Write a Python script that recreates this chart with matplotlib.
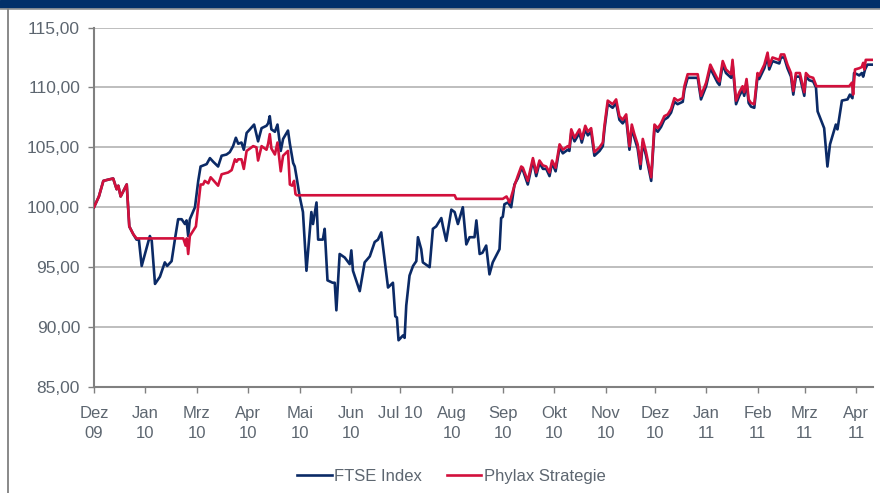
import matplotlib
matplotlib.use("Agg")
import matplotlib.pyplot as plt
from matplotlib.lines import Line2D

plt.rcParams['font.family'] = ['Liberation Sans', 'DejaVu Sans']

# trading-day index (0 = start of Dec 2009) and index level
ftse_day = [0, 2.1, 4.0, 6.0, 8.2, 9.7, 10.4, 11.4, 14.0, 15.1, 16.8, 18.2, 19.2, 20.4,
            23.9, 24.7, 26.1, 28.2, 30.3, 31.3, 33.2, 34.6, 36.0, 37.5, 38.9, 39.6, 40.3,
            41.0, 43.2, 44.6, 45.6, 48.2, 49.6, 51.0, 53.1, 54.6, 56.7, 58.1, 59.5, 60.7,
            61.7, 63.1, 64.1, 65.3, 66.7, 68.5, 70.2, 71.7, 73.8, 74.5, 75.2, 75.9, 77.4,
            78.5, 79.9, 80.9, 83.0, 83.8, 85.2, 85.9, 86.6, 88.0, 89.4, 90.9, 93.0, 93.7,
            95.2, 95.9, 97.9, 98.7, 99.9, 102.1, 103.0, 103.7, 105.1, 107.3, 109.4, 110.1,
            110.8, 113.7, 115.8, 118.0, 120.1, 121.5, 122.9, 125.8, 127.9, 128.9, 129.6,
            130.3, 132.2, 132.9, 133.6, 135.0, 136.5, 137.9, 138.6, 140.0, 140.7, 143.6,
            145.0, 146.4, 148.6, 149.3, 150.7, 152.9, 154.3, 155.7, 157.8, 159.3, 160.7,
            162.8, 163.6, 165.0, 166.2, 167.8, 169.2, 170.6, 173.5, 174.2, 174.9, 175.6,
            177.1, 178.5, 179.9, 181.3, 182.8, 183.5, 185.6, 187.8, 189.2, 190.6, 192.1,
            193.5, 194.9, 196.0, 197.5, 199.2, 200.6, 202.7, 203.4, 204.2, 205.6, 207.7,
            208.7, 210.2, 211.3, 212.7, 214.1, 216.3, 217.7, 218.4, 219.8, 221.9, 223.4,
            224.8, 226.2, 227.7, 229.1, 230.1, 231.2, 232.6, 233.8, 234.8, 236.2, 238.4,
            239.8, 241.2, 242.6, 244.0, 245.5, 246.9, 248.3, 249.7, 251.9, 252.6, 254.0,
            258.3, 259.7, 261.9, 263.7, 264.7, 266.8, 267.6, 269.0, 270.4, 272.6, 273.2,
            274.7, 276.1, 277.5, 278.2, 279.2, 280.1, 281.1, 282.5, 283.9, 284.6, 286.8,
            288.2, 288.9, 290.3, 293.2, 293.9, 295.3, 296.7, 298.2, 299.2, 300.3, 302.0,
            303.9, 304.6, 306.0, 307.7, 308.9, 309.6, 312.4, 313.8, 314.9, 317.4, 318.1,
            320.0, 322.4, 323.4, 324.5, 325.2, 326.5, 327.4, 328.5, 329.1, 329.9, 330.9,
            332.8]
ftse_val = [100.0, 100.9, 102.2, 102.3, 102.4, 101.5, 101.8, 100.9, 101.9, 98.4, 97.75,
            97.3, 97.3, 95.1, 97.6, 97.2, 93.6, 94.2, 95.4, 95.1, 95.5, 97.3, 99.0, 99.0,
            98.6, 98.9, 97.6, 99.0, 100.0, 102.2, 103.4, 103.6, 104.1, 103.8, 103.4, 104.3,
            104.4, 104.6, 105.1, 105.8, 105.3, 105.4, 104.8, 106.2, 106.5, 106.9, 105.5,
            106.6, 106.8, 107.0, 107.6, 106.5, 106.3, 106.9, 104.7, 105.7, 106.4, 105.3,
            103.7, 103.4, 102.6, 100.9, 99.6, 94.7, 99.6, 98.6, 100.4, 97.3, 97.3, 98.2,
            93.9, 93.7, 93.7, 91.4, 96.1, 95.8, 95.25, 96.4, 94.7, 93.0, 95.4, 95.9, 97.1,
            97.3, 97.9, 93.3, 93.7, 90.9, 90.8, 88.9, 89.3, 89.1, 91.8, 94.3, 95.1, 95.5,
            97.5, 96.5, 95.4, 95.0, 98.2, 98.4, 99.1, 98.4, 97.2, 99.8, 99.6, 98.6, 100.0,
            96.9, 97.5, 97.5, 98.9, 96.1, 96.2, 96.8, 94.4, 95.4, 96.5, 99.1, 99.2, 100.25,
            100.4, 100.0, 101.9, 102.4, 103.2, 103.1, 101.9, 103.9, 102.6, 103.7, 103.2,
            103.2, 102.6, 103.7, 103.0, 105.0, 104.5, 104.8, 104.7, 106.2, 105.5, 106.2,
            105.4, 106.5, 106.0, 106.3, 104.3, 104.7, 105.1, 106.5, 108.6, 108.3, 108.7,
            107.3, 107.0, 107.4, 104.8, 106.6, 105.8, 104.9, 103.2, 105.4, 104.3, 102.2,
            106.6, 106.3, 106.7, 107.3, 107.5, 107.9, 108.8, 108.6, 108.8, 109.8, 110.8,
            110.8, 109.0, 110.1, 111.6, 111.2, 110.4, 110.2, 111.9, 111.2, 110.8, 112.0,
            108.6, 109.3, 109.8, 109.3, 110.4, 108.7, 108.4, 108.3, 110.9, 110.7, 111.6,
            112.6, 111.5, 112.2, 112.0, 112.5, 112.5, 111.6, 110.9, 109.4, 110.9, 110.9,
            109.3, 110.9, 110.6, 110.5, 110.0, 108.0, 106.6, 103.4, 105.25, 106.9, 106.5,
            108.9, 109.0, 109.4, 109.1, 111.2, 111.1, 111.0, 111.2, 110.9, 111.5, 111.9,
            111.9]

phylax_day = [0, 2.1, 4.0, 6.0, 8.2, 9.7, 10.4, 11.4, 14.0, 15.1, 16.8, 18.2, 38.2, 39.2,
              39.7, 40.3, 41.0, 43.6, 45.6, 46.7, 47.4, 48.9, 49.9, 51.3, 53.1, 54.6, 57.4,
              58.9, 60.3, 61.0, 61.7, 63.1, 64.1, 65.3, 68.1, 69.5, 70.2, 71.7, 73.8, 74.5,
              75.2, 75.9, 77.4, 78.5, 79.9, 80.9, 83.0, 83.8, 84.8, 85.6, 86.2, 86.8, 154.3,
              155.0, 174.9, 176.5, 177.8, 179.9, 181.3, 182.8, 183.5, 185.6, 187.8, 189.2,
              190.6, 192.0, 193.5, 194.9, 196.0, 197.5, 199.2, 200.6, 202.7, 203.4, 204.2,
              205.6, 207.7, 208.7, 210.2, 211.3, 212.7, 214.1, 216.3, 217.7, 218.4, 219.8,
              221.9, 223.4, 224.8, 226.2, 227.7, 229.1, 230.1, 231.2, 232.6, 233.8, 234.8,
              236.2, 238.4, 239.8, 241.2, 242.6, 244.0, 245.5, 246.9, 248.3, 249.7, 251.9,
              252.6, 254.0, 258.3, 259.7, 261.9, 263.7, 264.7, 266.8, 267.6, 269.0, 270.4,
              272.6, 273.2, 274.7, 276.1, 277.5, 278.2, 279.2, 280.1, 281.1, 282.5, 283.9,
              284.6, 286.8, 288.2, 288.9, 290.3, 293.2, 293.9, 295.3, 296.7, 298.2, 299.2,
              300.3, 302.0, 303.9, 304.6, 306.0, 307.7, 309.1, 323.1, 324.3, 324.8, 325.6,
              327.4, 328.5, 329.1, 329.6, 330.2, 332.8]
phylax_val = [100.0, 100.9, 102.2, 102.3, 102.4, 101.5, 101.8, 100.9, 101.9, 98.4, 97.75,
              97.4, 97.4, 96.8, 97.4, 96.1, 97.6, 98.4, 101.9, 101.9, 102.2, 102.0, 102.5,
              102.2, 101.8, 102.75, 102.9, 103.1, 104.0, 103.8, 104.0, 104.0, 103.2, 104.7,
              105.1, 105.0, 103.9, 105.1, 104.8, 105.3, 106.1, 104.9, 104.4, 105.4, 103.0,
              104.3, 104.7, 101.9, 101.8, 102.2, 101.1, 101.0, 101.0, 100.7, 100.7, 100.9,
              100.4, 101.8, 102.6, 103.4, 103.3, 102.2, 104.1, 102.9, 103.9, 103.5, 103.4,
              102.9, 103.9, 103.3, 105.25, 104.8, 105.1, 105.0, 106.5, 105.8, 106.5, 105.7,
              106.8, 106.3, 106.6, 104.6, 105.0, 105.4, 106.8, 108.9, 108.6, 109.0, 107.6,
              107.3, 107.75, 105.1, 106.9, 106.1, 105.25, 103.6, 105.7, 104.6, 102.5, 106.9,
              106.6, 107.0, 107.6, 107.75, 108.2, 109.1, 108.9, 109.1, 110.1, 111.1, 111.1,
              109.3, 110.4, 111.9, 111.5, 110.7, 110.5, 112.2, 111.5, 111.1, 112.3, 108.9,
              109.6, 110.1, 109.6, 110.7, 109.0, 108.7, 108.6, 111.2, 111.0, 111.9, 112.9,
              111.8, 112.5, 112.3, 112.75, 112.75, 111.9, 111.2, 109.7, 111.2, 111.2, 109.6,
              111.2, 110.9, 110.8, 110.1, 110.1, 110.4, 109.4, 111.5, 111.6, 111.7, 112.05,
              111.5, 112.3, 112.3]

tick_days = [0, 22, 44, 66, 88, 110, 131, 153, 175, 197, 219, 240, 262, 284, 304, 326]
tick_labels = ["Dez\n09", "Jan\n10", "Mrz\n10", "Apr\n10", "Mai\n10", "Jun\n10", "Jul 10",
               "Aug\n10", "Sep\n10", "Okt\n10", "Nov\n10", "Dez\n10", "Jan\n11", "Feb\n11",
               "Mrz\n11", "Apr\n11"]
y_ticks = [85, 90, 95, 100, 105, 110, 115]

navy = "#0b2a66"
red = "#d2103c"
grey = "#808080"
txt = "#5d6670"

fig = plt.figure(figsize=(8.8, 4.93), dpi=100)
# header band and frame
fig.patches.append(plt.Rectangle((0, 1 - 7.5 / 493), 1, 7.5 / 493, transform=fig.transFigure,
                                 color="#02306a", zorder=0))
fig.add_artist(Line2D([0, 1], [1 - 8.7 / 493] * 2, transform=fig.transFigure, color="#9a9a9a", lw=1.2))
fig.add_artist(Line2D([8 / 880] * 2, [0, 1 - 8.7 / 493], transform=fig.transFigure, color=grey, lw=1.3))

ax = fig.add_axes([94 / 880, 1 - 387 / 493, (873 - 94) / 880, (387 - 27.5) / 493])
ax.plot(ftse_day, ftse_val, color=navy, lw=1.9, label="FTSE Index", zorder=3)
ax.plot(phylax_day, phylax_val, color=red, lw=1.9, label="Phylax Strategie", zorder=4)

ax.set_xlim(0, 333.3)
ax.set_ylim(85, 115)
ax.set_yticks(y_ticks)
ax.set_yticklabels([f"{v:.2f}".replace(".", ",") for v in y_ticks])
ax.set_xticks(tick_days)
ax.set_xticklabels(tick_labels, linespacing=1.4)
ax.grid(axis="y", color="#b3b3b3", lw=1.2)
ax.set_axisbelow(True)

for s in ["top", "right"]:
    ax.spines[s].set_visible(False)
for s in ["left", "bottom"]:
    ax.spines[s].set_color(grey)
    ax.spines[s].set_linewidth(1.5)
ax.tick_params(axis="y", colors=grey, labelcolor=txt, labelsize=12.5, length=4, width=1, pad=6)
ax.tick_params(axis="x", colors=grey, labelcolor=txt, labelsize=12, length=4, width=1, pad=10)
for lab in ax.get_xticklabels():
    lab.set_verticalalignment("top")

fig.legend(loc="center", bbox_to_anchor=(0.513, 1 - 476.5 / 493), ncol=2, frameon=False,
           fontsize=12, handlelength=2.05, handletextpad=0.15, columnspacing=1.5,
           labelcolor=txt)

fig.savefig("out.png", dpi=100)
